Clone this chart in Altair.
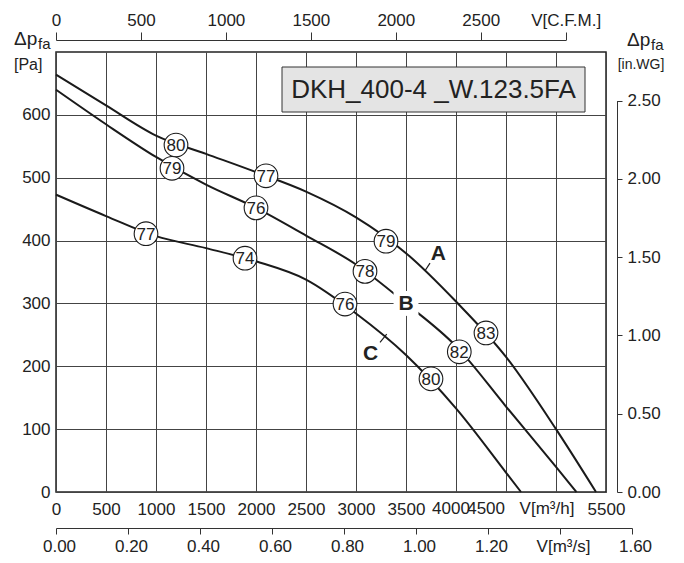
import altair as alt
import pandas as pd

# ---------------- data ----------------
CURVES = ["A", "B", "C"]

# curve A  (V [m3/h], dp_fa [Pa])
A_Q = [0, 500, 1000, 1500, 2000, 2500, 3000, 3500, 4000, 4500, 5000, 5400]
A_P = [664, 615, 567, 538, 509, 478, 437, 380, 303, 215, 100, 0]
# curve B
B_Q = [0, 500, 1000, 1500, 2000, 2500, 3000, 3500, 4000, 4500, 5000, 5205]
B_P = [640, 585, 533, 489, 452, 408, 362, 300, 232, 136, 40, 0]
# curve C
C_Q = [0, 500, 1000, 1500, 2000, 2500, 3000, 3500, 4000, 4500, 4650]
C_P = [473, 439, 407, 388, 367, 338, 284, 218, 133, 31, 0]

# sound level markers on each curve
A_LBL_Q = [1200, 2100, 3300, 4300]
A_LBL_P = [552, 503, 399, 253]
A_LBL = ["80", "77", "79", "83"]
B_LBL_Q = [1160, 2000, 3090, 4033]
B_LBL_P = [515, 452, 351, 223]
B_LBL = ["79", "76", "78", "82"]
C_LBL_Q = [900, 1890, 2890, 3750]
C_LBL_P = [411, 372, 299, 180]
C_LBL = ["77", "74", "76", "80"]

# curve letters and their leader lines
LETTER_Q = [3823, 3500, 3147]
LETTER_P = [380, 300, 221]
LEADER_Q0 = [3690, 3307]
LEADER_P0 = [352, 251]
LEADER_Q1 = [3740, 3240]
LEADER_P1 = [364, 238]

# axis ticks
Q_TICKS = [0, 500, 1000, 1500, 2000, 2500, 3000, 3500, 4000, 4500, 5000, 5500]
P_TICKS = [0, 100, 200, 300, 400, 500, 600]
CFM_TICKS = [0, 500, 1000, 1500, 2000, 2500, 3000]
MS_TICKS = [0.0, 0.2, 0.4, 0.6, 0.8, 1.0, 1.2, 1.4, 1.6]
WG_TICKS = [0.0, 0.5, 1.0, 1.5, 2.0, 2.5]
# crowded bottom labels that the original sets by hand
CROWD_Q = [4000, 4500, 5000]
CROWD_TXT = ["4000", "4500", "V[m³/h]"]

TITLE = "DKH_400-4 _W.123.5FA"

# ---------------- layout constants ----------------
W, H = 550, 440
Q_MAX, P_MAX = 5500, 700
M3H_PER_CFM = 1.69901
PA_PER_INWG = 249.089
FONT = "Liberation Sans"
INK = "#222222"
LBL_SIZE = 17
BOTTOM_PAD = 9

# ---------------- tables ----------------
curve_rows = []
for name, qs, ps in zip(CURVES, [A_Q, B_Q, C_Q], [A_P, B_P, C_P]):
    for q, p in zip(qs, ps):
        curve_rows.append({"curve": name, "q": q, "p": p})
curves_df = pd.DataFrame(curve_rows)

lbl_rows = []
for qs, ps, ls in [(A_LBL_Q, A_LBL_P, A_LBL), (B_LBL_Q, B_LBL_P, B_LBL), (C_LBL_Q, C_LBL_P, C_LBL)]:
    for q, p, l in zip(qs, ps, ls):
        lbl_rows.append({"q": q, "p": p, "txt": l})
lbl_df = pd.DataFrame(lbl_rows)

letters_df = pd.DataFrame({"q": LETTER_Q, "p": LETTER_P, "txt": CURVES})
leader_df = pd.DataFrame({"q": LEADER_Q0, "p": LEADER_P0, "q2": LEADER_Q1, "p2": LEADER_P1})
crowd_df = pd.DataFrame({"q": CROWD_Q, "t": CROWD_TXT})

# ---------------- main layer ----------------
x_main = alt.X(
    "q:Q",
    scale=alt.Scale(domain=[0, Q_MAX], nice=False),
    axis=alt.Axis(
        orient="bottom", values=Q_TICKS, format="d", ticks=False, domain=False,
        grid=True, title=None, labelPadding=BOTTOM_PAD, labelOverlap=False, labelFlush=False,
        labelExpr="datum.value >= 4000 && datum.value <= 5000 ? '' : datum.label",
    ),
)
y_main = alt.Y(
    "p:Q",
    scale=alt.Scale(domain=[0, P_MAX], nice=False),
    axis=alt.Axis(
        orient="left", values=P_TICKS, format="d", ticks=False, domain=False,
        grid=True, title=None, labelPadding=6,
    ),
)

lines = alt.Chart(curves_df).mark_line(
    color="#1a1a1a", strokeWidth=2, interpolate="monotone"
).encode(x=x_main, y=y_main, detail="curve:N", order="q:Q")

leaders = alt.Chart(leader_df).mark_rule(color="#1a1a1a", strokeWidth=1.2).encode(
    x="q:Q", y="p:Q", x2="q2:Q", y2="p2:Q"
)

b_bg = alt.Chart(letters_df[letters_df["txt"] == "B"]).mark_point(
    shape="square", filled=True, fill="white", stroke=None, size=620, opacity=1
).encode(x="q:Q", y="p:Q")

circles = alt.Chart(lbl_df).mark_point(
    shape="circle", filled=True, fill="white", stroke="#1a1a1a", strokeWidth=1.1,
    size=560, opacity=1,
).encode(x="q:Q", y="p:Q")

circle_txt = alt.Chart(lbl_df).mark_text(
    font=FONT, fontSize=17, color=INK, align="center", baseline="middle", dy=1
).encode(x="q:Q", y="p:Q", text="txt:N")

letters = alt.Chart(letters_df).mark_text(
    font=FONT, fontSize=21, fontWeight="bold", color=INK, align="center", baseline="middle", dy=1
).encode(x="q:Q", y="p:Q", text="txt:N")


# the three crowded bottom-axis labels, placed through the x scale
def crowd(i, align, dx):
    return alt.Chart(crowd_df.iloc[[i]]).mark_text(
        font=FONT, fontSize=LBL_SIZE, color=INK, align=align, baseline="top", dx=dx
    ).encode(x="q:Q", y=alt.value(H + BOTTOM_PAD), text="t:N")


crowd_labels = [crowd(0, "center", -5), crowd(1, "right", -1), crowd(2, "center", -9)]

# title box
title_df = pd.DataFrame({"t": [TITLE]})
title_box = alt.Chart(title_df).mark_rect(
    fill="#e4e4e4", stroke="#333333", strokeWidth=1
).encode(x=alt.value(226), x2=alt.value(529), y=alt.value(15), y2=alt.value(60))
title_txt = alt.Chart(title_df).mark_text(
    font=FONT, fontSize=26, color=INK, align="center", baseline="middle"
).encode(x=alt.value(377.5), y=alt.value(38), text="t:N")


def label(txt, x, y, size, align="left", baseline="alphabetic"):
    return alt.Chart(pd.DataFrame({"t": [txt]})).mark_text(
        font=FONT, fontSize=size, color=INK, align=align, baseline=baseline
    ).encode(x=alt.value(x), y=alt.value(y), text="t:N")


axis_titles = [
    label("Δp", -42, -7, 19),
    label("fa", -18, -3, 15),
    label("[Pa]", -42, 13, 16, baseline="middle"),
    label("Δp", 571, -6, 19),
    label("fa", 595, -2, 15),
    label("[in.WG]", 585, 13, 14, align="center", baseline="middle"),
]

main = alt.layer(
    lines, leaders, b_bg, circles, circle_txt, letters, title_box, title_txt,
    *crowd_labels, *axis_titles
)

# ---------------- secondary axes ----------------
cfm_layer = alt.Chart(pd.DataFrame({"cfm": CFM_TICKS})).mark_point(opacity=0).encode(
    x=alt.X(
        "cfm:Q",
        scale=alt.Scale(domain=[0, CFM_TICKS[-1]], nice=False,
                        range=[0, CFM_TICKS[-1] * M3H_PER_CFM / Q_MAX * W]),
        axis=alt.Axis(
            orient="top", offset=12, values=CFM_TICKS, format="d", tickSize=8,
            labelPadding=3, grid=False, title=None, labelOverlap=False, labelFlush=False,
            labelExpr="datum.value == 3000 ? 'V[C.F.M.]' : datum.label",
        ),
    )
)

ms_layer = alt.Chart(pd.DataFrame({"ms": MS_TICKS})).mark_point(opacity=0).encode(
    x=alt.X(
        "ms:Q",
        scale=alt.Scale(domain=[0, MS_TICKS[-1]], nice=False,
                        range=[0, MS_TICKS[-1] * 3600 / Q_MAX * W]),
        axis=alt.Axis(
            orient="bottom", offset=36, values=MS_TICKS, format=".2f", tickSize=6,
            labelPadding=4, labelOffset=3, grid=False, title=None, labelOverlap=False,
            labelFlush=False,
            labelExpr="abs(datum.value - 1.4) < 0.0001 ? 'V[m³/s]' : datum.label",
        ),
    )
)

wg_layer = alt.Chart(pd.DataFrame({"wg": WG_TICKS})).mark_point(opacity=0).encode(
    y=alt.Y(
        "wg:Q",
        scale=alt.Scale(domain=[0, WG_TICKS[-1]], nice=False,
                        range=[H, H - WG_TICKS[-1] * PA_PER_INWG / P_MAX * H]),
        axis=alt.Axis(
            orient="right", offset=11, values=WG_TICKS, format=".2f", tickSize=5,
            labelPadding=5, grid=False, title=None, labelFlush=False,
        ),
    )
)

chart = (
    alt.layer(main, cfm_layer, ms_layer, wg_layer)
    .resolve_scale(x="independent", y="independent")
    .properties(
        width=W, height=H,
        autosize=alt.AutoSizeParams(type="none"),
        padding={"left": 48, "top": 44, "right": 66, "bottom": 63},
        background="white",
    )
    .configure_view(stroke="#222222", strokeWidth=1.5)
    .configure_axis(
        labelFont=FONT, labelFontSize=LBL_SIZE, labelColor=INK,
        domainColor="#333333", domainWidth=1, tickColor="#333333", tickWidth=1,
        gridColor="#444444", gridWidth=1, gridOpacity=1,
    )
)

chart.save("out.html", embed_options={"renderer": "svg", "actions": False})
